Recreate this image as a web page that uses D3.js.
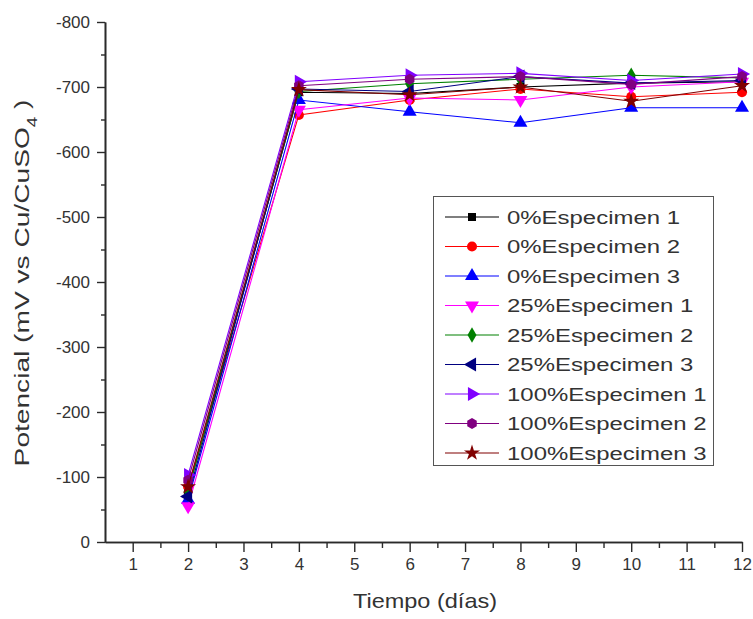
<!DOCTYPE html>
<html>
<head>
<meta charset="utf-8">
<script src="https://cdn.jsdelivr.net/npm/d3@7"></script>
<style>
  html, body { margin: 0; padding: 0; background: #fff; }
  svg { display: block; font-family: "Liberation Sans", Arial, sans-serif; }
</style>
</head>
<body>
<svg id="chart" width="753" height="619"></svg>
<script>
// Measurement days
const days = [2, 4, 6, 8, 10, 12];

// Potential readings (mV vs Cu/CuSO4) per specimen
const esp0_1   = [-80, -692, -690, -700, -706, -708];
const esp0_2   = [-85, -657, -680, -697, -685, -692];
const esp0_3   = [-65, -680, -662, -645, -668, -668];
const esp25_1  = [-55, -665, -683, -680, -700, -708];
const esp25_2  = [-78, -693, -705, -712, -718, -714];
const esp25_3  = [-70, -697, -693, -716, -706, -710];
const esp100_1 = [-103, -708, -718, -721, -710, -720];
const esp100_2 = [-95, -702, -712, -716, -704, -716];
const esp100_3 = [-85, -696, -688, -700, -678, -702];

const seriesNames = [
  "0%Especimen 1", "0%Especimen 2", "0%Especimen 3",
  "25%Especimen 1", "25%Especimen 2", "25%Especimen 3",
  "100%Especimen 1", "100%Especimen 2", "100%Especimen 3"
];
const seriesValues = [esp0_1, esp0_2, esp0_3, esp25_1, esp25_2, esp25_3, esp100_1, esp100_2, esp100_3];
const seriesColors = ["#000000", "#ff0000", "#0000ff", "#ff00ff", "#008000", "#000080", "#8000ff", "#800080", "#800000"];
const seriesShapes = ["square", "circle", "up", "down", "diamond", "left", "right", "hexagon", "star"];

const xTicks = [1, 2, 3, 4, 5, 6, 7, 8, 9, 10, 11, 12];
const xMinor = [1.5, 2.5, 3.5, 4.5, 5.5, 6.5, 7.5, 8.5, 9.5, 10.5, 11.5];
const yTicks = [0, -100, -200, -300, -400, -500, -600, -700, -800];
const yMinor = [-50, -150, -250, -350, -450, -550, -650, -750];

const svg = d3.select("#chart");

const x = d3.scaleLinear().domain([0.5, 12]).range([105, 742]);
const y = d3.scaleLinear().domain([0, -800]).range([542, 22]);

// marker path generator
function markerPath(shape) {
  switch (shape) {
    case "square":  return d3.symbol(d3.symbolSquare, 64)();
    case "circle":  return d3.symbol(d3.symbolCircle, 80)();
    case "up":      return d3.symbol(d3.symbolTriangle, 85)();
    case "down":    return d3.symbol(d3.symbolTriangle, 85)();
    case "left":    return d3.symbol(d3.symbolTriangle, 85)();
    case "right":   return d3.symbol(d3.symbolTriangle, 85)();
    case "diamond": return d3.symbol(d3.symbolDiamond, 70)();
    case "star":    return d3.symbol(d3.symbolStar, 80)();
    case "hexagon": {
      const r = 5.5, pts = [];
      for (let i = 0; i < 6; i++) {
        const a = Math.PI / 6 + i * Math.PI / 3;
        pts.push([r * Math.cos(a), r * Math.sin(a)]);
      }
      return "M" + pts.map(p => p.join(",")).join("L") + "Z";
    }
  }
}
const markerRot = { down: 180, left: -90, right: 90 };

// Axes
const axisColor = "#2a2a2a";
function styleAxis(g) {
  g.select(".domain").attr("stroke", axisColor).attr("stroke-width", 1.6);
  g.selectAll(".tick line").attr("stroke", axisColor).attr("stroke-width", 1.4);
  g.selectAll(".tick text").attr("fill", "#333").style("font-size", "17px")
    .style("font-family", '"Liberation Sans", Arial, sans-serif');
}

svg.append("g").attr("transform", "translate(0,542)")
  .call(d3.axisBottom(x).tickValues(xMinor).tickSize(6).tickSizeOuter(0).tickFormat(""))
  .call(styleAxis);
svg.append("g").attr("transform", "translate(0,542)")
  .call(d3.axisBottom(x).tickValues(xTicks).tickSize(10).tickSizeOuter(0).tickPadding(6).tickFormat(d => String(d)))
  .call(styleAxis);

svg.append("g").attr("transform", "translate(105,0)")
  .call(d3.axisLeft(y).tickValues(yMinor).tickSize(4).tickSizeOuter(0).tickFormat(""))
  .call(styleAxis);
svg.append("g").attr("transform", "translate(105,0)")
  .call(d3.axisLeft(y).tickValues(yTicks).tickSize(8).tickSizeOuter(0).tickPadding(7).tickFormat(d => String(d)))
  .call(styleAxis);

// Series lines and markers
const line = d3.line().x(d => x(d[0])).y(d => y(d[1]));
seriesValues.forEach((vals, i) => {
  const pts = days.map((d, j) => [d, vals[j]]);
  const g = svg.append("g");
  g.append("path").datum(pts).attr("d", line)
    .attr("fill", "none").attr("stroke", seriesColors[i]).attr("stroke-width", 1.1);
  g.selectAll("path.m").data(pts).join("path").attr("class", "m")
    .attr("d", markerPath(seriesShapes[i]))
    .attr("transform", d => `translate(${x(d[0])},${y(d[1])}) rotate(${markerRot[seriesShapes[i]] || 0})`)
    .attr("fill", seriesColors[i]);
});

// Legend
const legend = svg.append("g");
legend.append("rect").attr("x", 433.5).attr("y", 196.5).attr("width", 280).attr("height", 269)
  .attr("fill", "#fff").attr("stroke", "#555").attr("stroke-width", 1);
seriesNames.forEach((name, i) => {
  const cy = 217 + i * 29.5;
  legend.append("line").attr("x1", 445).attr("x2", 499).attr("y1", cy).attr("y2", cy)
    .attr("stroke", seriesColors[i]).attr("stroke-width", 1.1);
  legend.append("path").attr("d", markerPath(seriesShapes[i]))
    .attr("transform", `translate(472,${cy}) rotate(${markerRot[seriesShapes[i]] || 0})`)
    .attr("fill", seriesColors[i]);
  legend.append("text")
    .attr("transform", `translate(507,${cy}) scale(1.26,1)`)
    .attr("dy", "0.36em").attr("fill", "#333").style("font-size", "19px")
    .text(name);
});

// Axis titles
svg.append("text")
  .attr("transform", "translate(425,608) scale(1.12,1)")
  .attr("text-anchor", "middle").attr("fill", "#333").style("font-size", "21px")
  .text("Tiempo (días)");

const yl = svg.append("text")
  .attr("transform", "translate(29,283) rotate(-90) scale(1.34,1)")
  .attr("text-anchor", "middle").attr("fill", "#333").style("font-size", "21px");
yl.append("tspan").text("Potencial (mV vs Cu/CuSO");
yl.append("tspan").attr("baseline-shift", "sub").style("font-size", "14px").text("4");
yl.append("tspan").text(" )");
</script>
</body>
</html>
